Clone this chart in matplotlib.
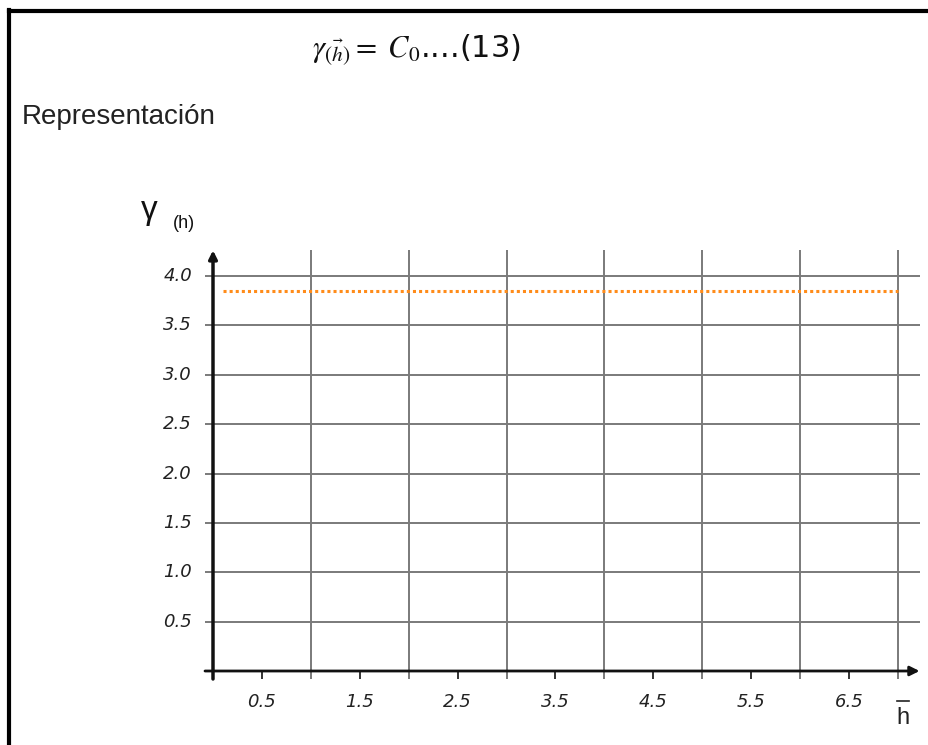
import matplotlib
matplotlib.use("Agg")
import matplotlib.pyplot as plt
from matplotlib.lines import Line2D

# data
h = [0.1, 7.0]
gamma = [3.85, 3.85]
grid_x = [1, 2, 3, 4, 5, 6, 7]
grid_y = [0.5, 1.0, 1.5, 2.0, 2.5, 3.0, 3.5, 4.0]
xlabels = ["0.5", "1.5", "2.5", "3.5", "4.5", "5.5", "6.5"]
xlabel_pos = [0.5, 1.5, 2.5, 3.5, 4.5, 5.5, 6.5]
ylabels = ["0.5", "1.0", "1.5", "2.0", "2.5", "3.0", "3.5", "4.0"]

plt.rcParams['mathtext.fontset'] = 'stix'

W, H = 929, 745
fig = plt.figure(figsize=(W / 100, H / 100), dpi=100)

# axes placed in pixels: x=0 -> 213px, x=7 -> 898px ; y=0 -> 671px, y=4 -> 276px
xmax, ymax = 7.22, 4.26
px_x = (898 - 213) / 7
px_y = (671 - 276) / 4
left, bottom = 213 / W, (H - 671) / H
ax = fig.add_axes([left, bottom, xmax * px_x / W, ymax * px_y / H])
ax.set_xlim(0, xmax)
ax.set_ylim(0, ymax)
for s in ax.spines.values():
    s.set_visible(False)
ax.set_xticks([])
ax.set_yticks([])

gc = "#7a7a7a"
tick_x = 8 / px_x
tick_y = 8 / px_y
ax.vlines(grid_x, -tick_y, ymax, color=gc, lw=1.4, clip_on=False, zorder=1)
ax.hlines(grid_y, -tick_x, xmax, color=gc, lw=1.4, clip_on=False, zorder=1)
ax.vlines(xlabel_pos, -tick_y, 0, color="#333333", lw=1.4, clip_on=False)

# axes with arrows
ax.annotate("", xy=(xmax, 0), xytext=(-tick_x, 0),
            arrowprops=dict(arrowstyle="-|>", color="#111111", lw=2,
                            mutation_scale=14, shrinkA=0, shrinkB=0),
            annotation_clip=False)
ax.annotate("", xy=(0, ymax), xytext=(0, -tick_y),
            arrowprops=dict(arrowstyle="-|>", color="#111111", lw=2.5,
                            mutation_scale=12, shrinkA=0, shrinkB=0),
            annotation_clip=False)

ax.plot(h, gamma, color="#ff8c1a", lw=2.2, linestyle=(0, (1, 1)), zorder=3)

tfont = dict(family="DejaVu Sans", style="italic", fontsize=13, color="#222222")
for v, lab in zip(grid_y, ylabels):
    ax.text(-21 / px_x, v, lab, ha="right", va="center", **tfont)
for v, lab in zip(xlabel_pos, xlabels):
    ax.text(v, -31 / px_y, lab, ha="center", va="center", **tfont)

# h-bar label on the x axis end
fig.text(903 / W, 1 - 718 / H, "h", ha="center", va="center",
         fontsize=17, color="#222222", family="Liberation Sans")
fig.add_artist(Line2D([897 / W, 909 / W], [1 - 701 / H, 1 - 701 / H],
                      color="#222222", lw=1.2, transform=fig.transFigure))

fig.text(141 / W, 1 - 210 / H, "\u03b3", ha="left", va="center",
         fontsize=24, color="#111111", family="Liberation Sans")
fig.text(173 / W, 1 - 224 / H, "(h)", ha="left", va="center",
         fontsize=13, color="#111111", family="Liberation Sans")

fig.text(22 / W, 1 - 117 / H, "Representación", ha="left", va="center",
         fontsize=20, color="#222222", family="Liberation Sans")

fig.text(312 / W, 1 - 50 / H, r"$\gamma_{(\vec{h})} =\ C_0$....(13)",
         ha="left", va="center", fontsize=22, color="#111111", family="DejaVu Sans")

# border on top and left
fig.add_artist(Line2D([9 / W, 1], [1 - 11 / H, 1 - 11 / H], color="black", lw=3,
                      transform=fig.transFigure))
fig.add_artist(Line2D([9 / W, 9 / W], [0, 1 - 9.5 / H], color="black", lw=3,
                      transform=fig.transFigure))

fig.savefig("out.png", dpi=100)
